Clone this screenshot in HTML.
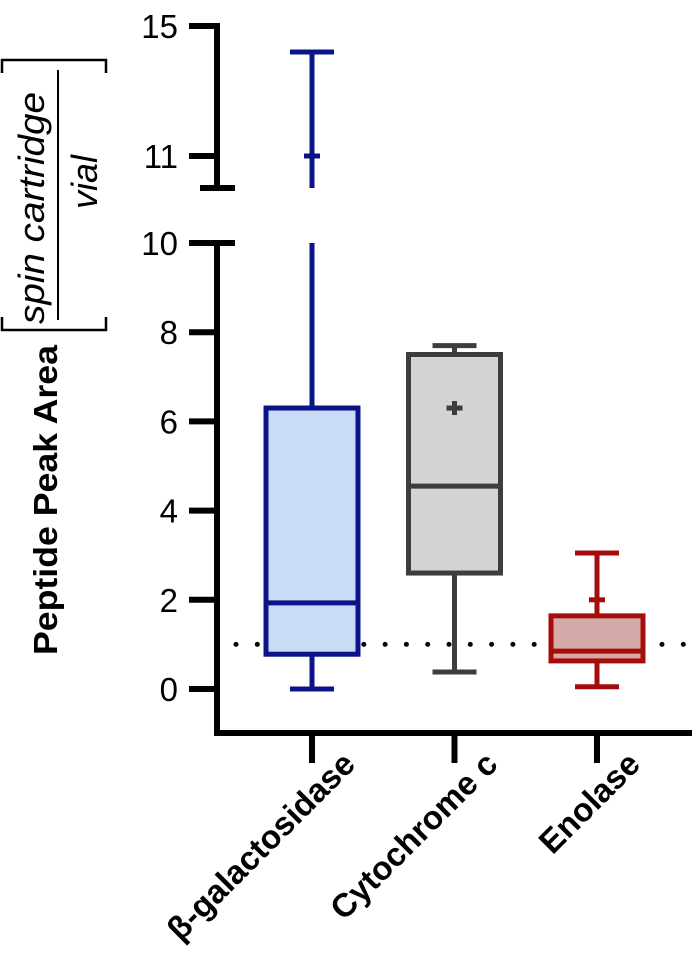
<!DOCTYPE html>
<html><head><meta charset="utf-8"><style>
html,body{margin:0;padding:0;background:#fff;}
svg{display:block;font-family:"Liberation Sans",sans-serif;}
</style></head><body>
<svg id="chart" width="698" height="955" viewBox="0 0 698 955" xmlns="http://www.w3.org/2000/svg">
<g>
  <text transform="translate(57,500) rotate(-90)" text-anchor="middle" font-size="33" font-weight="bold" textLength="310" lengthAdjust="spacingAndGlyphs">Peptide Peak Area</text>
  <path d="M2,73 L2,60 L106,60 L106,73 M2,317 L2,330 L106,330 L106,317" stroke="#000" stroke-width="2.5" fill="none"/>
  <line x1="58" y1="70" x2="58" y2="320" stroke="#000" stroke-width="2"/>
  <text transform="translate(44,208) rotate(-90)" text-anchor="middle" font-size="36" font-style="italic" textLength="232" lengthAdjust="spacingAndGlyphs">spin cartridge</text>
  <text transform="translate(97,182) rotate(-90)" text-anchor="middle" font-size="36" font-style="italic">vial</text>
</g>
<g id="axes"></g>
<g id="marks"></g>
</svg>
<script>
const categories = ["β-galactosidase","Cytochrome c","Enolase"];
const mins = [0, 0.38, 0.05];
const q1s = [0.78, 2.6, 0.63];
const medians = [1.93, 4.55, 0.85];
const q3s = [6.3, 7.5, 1.64];
const maxs = [14.2, 7.7, 3.05];
const means = [11.0, 6.3, 2.0];
const lowerTicks = [0,2,4,6,8,10];
const upperTicks = [11,15];
const refLine = 1;

const NS="http://www.w3.org/2000/svg";
const strokeCols=["#0a1488","#3d3d3d","#a50d0d"];
const fillCols=["#c9dcf5","#d4d4d4","#d7aaaa"];
const AX=217, AXB=733;
function yLow(v){return 689-44.6*v;}
function yUp(v){return 156-32.5*(v-11);}
const BREAK_LOW=10, BREAK_UP_Y=188;
function xCat(i){return 312+142.5*i;}
function el(tag,attrs,parent){const e=document.createElementNS(NS,tag);for(const k in attrs)e.setAttribute(k,attrs[k]);parent.appendChild(e);return e;}
const axes=document.getElementById('axes'), marks=document.getElementById('marks');

let l=el('line',{x1:AX,y1:yLow(10)-3,x2:AX,y2:AXB,stroke:'#000','stroke-width':6},axes);


l=el('line',{x1:200,y1:yLow(10),x2:235,y2:yLow(10),stroke:'#000','stroke-width':6},axes);


lowerTicks.forEach(v=>{
  const t=el('line',{x1:189,y1:yLow(v),x2:AX,y2:yLow(v),stroke:'#000','stroke-width':6},axes);
  
  
  const tx=el('text',{x:178,y:yLow(v)+12,'text-anchor':'end','font-size':33},axes);
  tx.textContent=v;
  
  
});
l=el('line',{x1:AX,y1:yUp(15)-3,x2:AX,y2:BREAK_UP_Y,stroke:'#000','stroke-width':6},axes);


l=el('line',{x1:200,y1:BREAK_UP_Y,x2:235,y2:BREAK_UP_Y,stroke:'#000','stroke-width':6},axes);


upperTicks.forEach(v=>{
  const t=el('line',{x1:189,y1:yUp(v),x2:AX,y2:yUp(v),stroke:'#000','stroke-width':6},axes);
  
  
  const tx=el('text',{x:178,y:yUp(v)+12,'text-anchor':'end','font-size':33},axes);
  tx.textContent=v;
  
  
});
l=el('line',{x1:AX-3,y1:AXB,x2:692,y2:AXB,stroke:'#000','stroke-width':6},axes);


categories.forEach((c,i)=>{
  const x=xCat(i);
  const t=el('line',{x1:x,y1:AXB,x2:x,y2:763,stroke:'#000','stroke-width':6},axes);
  
  
  const tx=el('text',{transform:`translate(${x+45},${766}) rotate(-45)`,'text-anchor':'end','font-size':33,'font-weight':'bold'},axes);
  tx.textContent=c;
  
  
});
l=el('line',{x1:236,y1:yLow(refLine),x2:692,y2:yLow(refLine),stroke:'#000','stroke-width':5,'stroke-dasharray':'0 21.3','stroke-linecap':'round'},marks);



function yv(v){return v>BREAK_LOW?yUp(v):yLow(v);}
categories.forEach((c,i)=>{
  const x=xCat(i), s=strokeCols[i], hw=46, cw=22;
  const g=el('g',{},marks);
  
  
  if(maxs[i]>BREAK_LOW){
    el('line',{x1:x,y1:yLow(q3s[i]),x2:x,y2:yLow(BREAK_LOW),stroke:s,'stroke-width':5},g);
    el('line',{x1:x,y1:BREAK_UP_Y,x2:x,y2:yUp(maxs[i]),stroke:s,'stroke-width':5},g);
  } else {
    el('line',{x1:x,y1:yLow(q3s[i]),x2:x,y2:yLow(maxs[i]),stroke:s,'stroke-width':5},g);
  }
  el('line',{x1:x-cw,y1:yv(maxs[i]),x2:x+cw,y2:yv(maxs[i]),stroke:s,'stroke-width':5},g);
  el('line',{x1:x,y1:yLow(q1s[i]),x2:x,y2:yLow(mins[i]),stroke:s,'stroke-width':5},g);
  el('line',{x1:x-cw,y1:yLow(mins[i]),x2:x+cw,y2:yLow(mins[i]),stroke:s,'stroke-width':5},g);
  el('rect',{x:x-hw,y:yLow(q3s[i]),width:2*hw,height:yLow(q1s[i])-yLow(q3s[i]),fill:fillCols[i],stroke:s,'stroke-width':5},g);
  el('line',{x1:x-hw,y1:yLow(medians[i]),x2:x+hw,y2:yLow(medians[i]),stroke:s,'stroke-width':5},g);
  const my=yv(means[i]);
  el('line',{x1:x-8,y1:my,x2:x+8,y2:my,stroke:s,'stroke-width':5},g);
  el('line',{x1:x,y1:my-7,x2:x,y2:my+7,stroke:s,'stroke-width':5},g);
});
</script>
</body></html>
